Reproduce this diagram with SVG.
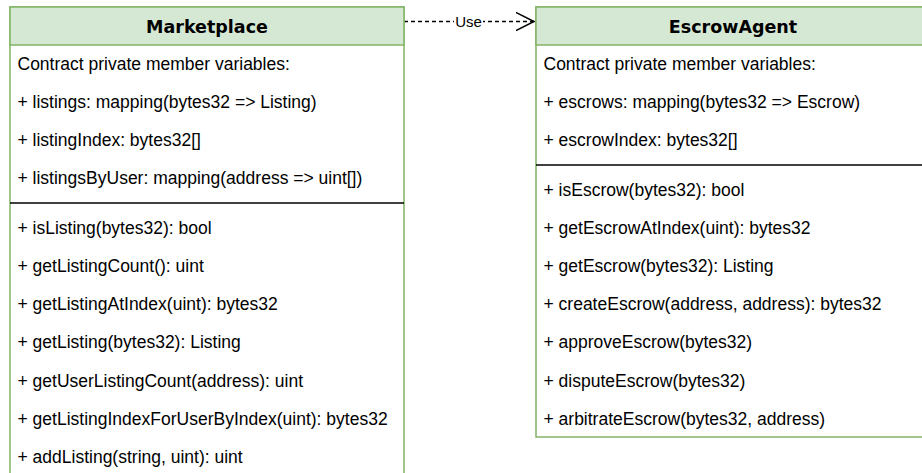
<svg xmlns="http://www.w3.org/2000/svg" width="922" height="473" viewBox="0 0 922 473">
<defs>
<style>
.box{fill:#ffffff;stroke:#82b366;stroke-width:1.5}
.hdr{fill:#d5e8d4;stroke:#82b366;stroke-width:1.5}
.sep{stroke:#000000;stroke-width:1.5}
.title{font-family:"DejaVu Sans",sans-serif;font-weight:bold;font-size:17.5px;fill:#000000;text-anchor:middle}
.row{font-family:"Liberation Sans",Arial,sans-serif;font-size:17.5px;fill:#000000}
.lbl{font-family:"Liberation Sans",Arial,sans-serif;font-size:15px;fill:#000000;text-anchor:middle}
.edge{fill:none;stroke:#000000;stroke-width:1.5}
</style>
<marker id="open" markerWidth="20" markerHeight="20" viewBox="0 0 20 20" refX="18" refY="10" orient="auto" markerUnits="userSpaceOnUse">
<path d="M0,1 L18,10 L0,19" fill="none" stroke="#000000" stroke-width="1.5"/>
</marker>
</defs>
<rect width="922" height="473" fill="#ffffff"/>
<g id="connectors">
<line class="edge" x1="404" y1="21.5" x2="534" y2="21.5" stroke-dasharray="4 3" marker-end="url(#open)"/>
<rect x="454" y="13" width="29" height="16" fill="#ffffff"/>
<text class="lbl" x="468.5" y="27">Use</text>
</g>
<g id="Marketplace">
<rect class="box" x="10" y="7" width="394" height="480"/>
<rect class="hdr" x="10" y="7" width="394" height="38"/>
<text class="title" x="207" y="33">Marketplace</text>
<text class="row" x="17.5" y="70.1">Contract private member variables:</text>
<text class="row" x="17.5" y="108.2">+ listings: mapping(bytes32 =&gt; Listing)</text>
<text class="row" x="17.5" y="146.3">+ listingIndex: bytes32[]</text>
<text class="row" x="17.5" y="184.4">+ listingsByUser: mapping(address =&gt; uint[])</text>
<line class="sep" x1="10" y1="203" x2="404" y2="203"/>
<text class="row" x="17.5" y="234.2">+ isListing(bytes32): bool</text>
<text class="row" x="17.5" y="272.3">+ getListingCount(): uint</text>
<text class="row" x="17.5" y="310.4">+ getListingAtIndex(uint): bytes32</text>
<text class="row" x="17.5" y="348.4">+ getListing(bytes32): Listing</text>
<text class="row" x="17.5" y="386.5">+ getUserListingCount(address): uint</text>
<text class="row" x="17.5" y="424.6">+ getListingIndexForUserByIndex(uint): bytes32</text>
<text class="row" x="17.5" y="462.7">+ addListing(string, uint): uint</text>
</g>
<g id="EscrowAgent">
<rect class="box" x="536" y="7" width="394" height="430"/>
<rect class="hdr" x="536" y="7" width="394" height="38"/>
<text class="title" x="733" y="33">EscrowAgent</text>
<text class="row" x="543.5" y="70.1">Contract private member variables:</text>
<text class="row" x="543.5" y="108.2">+ escrows: mapping(bytes32 =&gt; Escrow)</text>
<text class="row" x="543.5" y="146.3">+ escrowIndex: bytes32[]</text>
<line class="sep" x1="536" y1="165" x2="930" y2="165"/>
<text class="row" x="543.5" y="196.1">+ isEscrow(bytes32): bool</text>
<text class="row" x="543.5" y="234.2">+ getEscrowAtIndex(uint): bytes32</text>
<text class="row" x="543.5" y="272.3">+ getEscrow(bytes32): Listing</text>
<text class="row" x="543.5" y="310.4">+ createEscrow(address, address): bytes32</text>
<text class="row" x="543.5" y="348.4">+ approveEscrow(bytes32)</text>
<text class="row" x="543.5" y="386.5">+ disputeEscrow(bytes32)</text>
<text class="row" x="543.5" y="424.6">+ arbitrateEscrow(bytes32, address)</text>
</g>
</svg>
